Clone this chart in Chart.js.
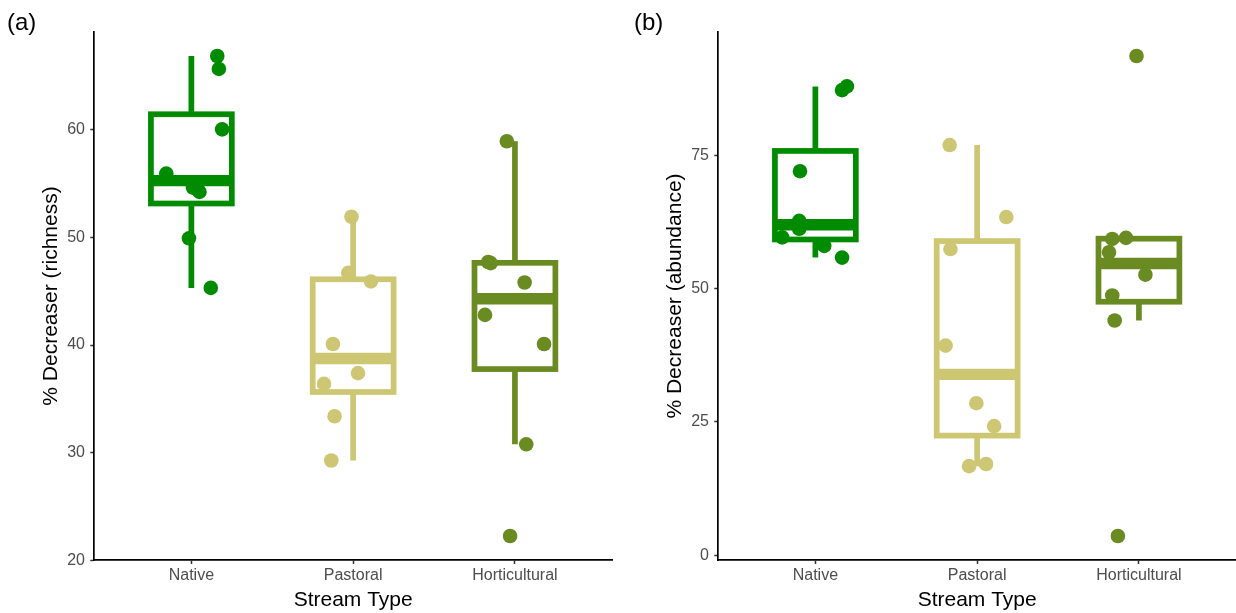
<!DOCTYPE html>
<html>
<head>
<meta charset="utf-8">
<script src="https://cdn.jsdelivr.net/npm/chart.js@4.4.0/dist/chart.umd.min.js"></script>
<style>
  html, body { margin: 0; padding: 0; background: #fff; }
  .panel { position: absolute; top: 0; width: 618px; height: 613px; }
  #panelA { left: 0; }
  #panelB { left: 618px; }
</style>
</head>
<body>
<div class="panel" id="panelA"><canvas id="chartA" width="618" height="613"></canvas></div>
<div class="panel" id="panelB"><canvas id="chartB" width="618" height="613"></canvas></div>
<script>
const streamTypes = ['Native', 'Pastoral', 'Horticultural'];
const streamColors = ['#008B00', '#CDC673', '#698B22'];

// % decreaser taxa (richness), one value per site
const richnessNative = [66.8, 65.6, 60.0, 55.9, 54.6, 54.2, 49.9, 45.3];
const richnessPastoral = [51.9, 46.7, 45.9, 40.1, 37.4, 36.4, 33.4, 29.3];
const richnessHorticultural = [58.9, 47.7, 47.6, 45.8, 42.8, 40.1, 30.8, 22.3];
// horizontal jitter of each site point, in category units
const richnessJitter = [
    [0.16, 0.17, 0.19, -0.155, 0.01, 0.05, -0.015, 0.12],
    [-0.01, -0.03, 0.11, -0.125, 0.03, -0.18, -0.115, -0.135],
    [-0.05, -0.165, -0.15, 0.06, -0.185, 0.18, 0.07, -0.03]
];
const richnessTicks = [20, 30, 40, 50, 60];

// % decreaser taxa (abundance), one value per site
const abundanceNative = [87.2, 87.9, 72.0, 62.7, 61.2, 59.6, 58.0, 55.8];
const abundancePastoral = [76.9, 63.4, 57.4, 39.3, 28.5, 24.2, 16.7, 17.1];
const abundanceHorticultural = [93.6, 59.3, 59.5, 56.8, 52.6, 48.7, 44.0, 3.6];
const abundanceJitter = [
    [0.165, 0.195, -0.095, -0.1, -0.1, -0.205, 0.055, 0.165],
    [-0.17, 0.18, -0.165, -0.195, -0.005, 0.105, -0.05, 0.055],
    [-0.015, -0.165, -0.08, -0.185, 0.04, -0.165, -0.15, -0.13]
];
const abundanceTicks = [0, 25, 50, 75];

const FONT = "'Liberation Sans', Arial, sans-serif";
const BOX_WIDTH = 0.5;

// type 7 quantile, same as R's default
function quantile(sorted, p) {
    const h = (sorted.length - 1) * p;
    const lo = Math.floor(h);
    const next = lo + 1 < sorted.length ? sorted[lo + 1] : sorted[lo];
    return sorted[lo] + (h - lo) * (next - sorted[lo]);
}

function boxStats(values) {
    const s = [...values].sort((a, b) => a - b);
    const q1 = quantile(s, 0.25);
    const med = quantile(s, 0.5);
    const q3 = quantile(s, 0.75);
    const iqr = q3 - q1;
    const inside = s.filter(v => v >= q1 - 1.5 * iqr && v <= q3 + 1.5 * iqr);
    return { q1, med, q3, lo: inside[0], hi: inside[inside.length - 1] };
}

const boxPlugin = {
    id: 'boxes',
    beforeDatasetsDraw(chart, args, opts) {
        const { ctx } = chart;
        const x = chart.scales.x, y = chart.scales.y;
        opts.groups.forEach((vals, i) => {
            const st = boxStats(vals);
            const cx = x.getPixelForValue(i + 1);
            const half = x.getPixelForValue(i + 1 + BOX_WIDTH / 2) - cx;
            const top = y.getPixelForValue(st.q3);
            const bot = y.getPixelForValue(st.q1);
            ctx.save();
            ctx.strokeStyle = streamColors[i];
            ctx.lineCap = 'butt';
            ctx.lineJoin = 'miter';
            ctx.lineWidth = 5.7;
            // whiskers
            ctx.beginPath();
            ctx.moveTo(cx, y.getPixelForValue(st.hi));
            ctx.lineTo(cx, top);
            ctx.moveTo(cx, bot);
            ctx.lineTo(cx, y.getPixelForValue(st.lo));
            ctx.stroke();
            // box
            ctx.fillStyle = '#fff';
            ctx.fillRect(cx - half, top, 2 * half, bot - top);
            ctx.strokeRect(cx - half, top, 2 * half, bot - top);
            // median
            const ym = y.getPixelForValue(st.med);
            ctx.lineWidth = 11.4;
            ctx.beginPath();
            ctx.moveTo(cx - half, ym);
            ctx.lineTo(cx + half, ym);
            ctx.stroke();
            ctx.restore();
        });
    },
    afterDraw(chart, args, opts) {
        const { ctx } = chart;
        ctx.save();
        ctx.fillStyle = '#000';
        ctx.font = `24px ${FONT}`;
        ctx.textBaseline = 'alphabetic';
        ctx.fillText(opts.tag, opts.tagX, 30);
        ctx.restore();
    }
};

function paddedRange(groups) {
    const all = groups.flat();
    const min = Math.min(...all), max = Math.max(...all);
    const pad = (max - min) * 0.05;
    return [min - pad, max + pad];
}

function makePanel(canvasId, groups, jitter, yTicks, yTitle, tag, tagX, yWidth, titleOffset, rightPad) {
    const [yMin, yMax] = paddedRange(groups);
    const datasets = groups.map((vals, i) => ({
        data: vals.map((v, k) => ({ x: i + 1 + jitter[i][k], y: v })),
        backgroundColor: streamColors[i],
        borderWidth: 0,
        pointRadius: 7.3,
        pointHoverRadius: 7.3
    }));
    const tickFont = { family: FONT, size: 16 };
    const titleFont = { family: FONT, size: 21 };
    return new Chart(document.getElementById(canvasId), {
        type: 'scatter',
        data: { datasets },
        plugins: [boxPlugin],
        options: {
            responsive: false,
            devicePixelRatio: 1,
            animation: false,
            events: [],
            layout: { autoPadding: false, padding: { left: 0, top: 32, right: rightPad, bottom: 0 } },
            plugins: {
                legend: { display: false },
                tooltip: { enabled: false },
                boxes: { groups, tag, tagX }
            },
            scales: {
                x: {
                    type: 'linear',
                    min: 0.4,
                    max: 3.6,
                    afterBuildTicks: s => { s.ticks = [1, 2, 3].map(v => ({ value: v })); },
                    afterFit: s => { s.height = 53; },
                    ticks: {
                        callback: v => streamTypes[v - 1],
                        color: '#4D4D4D',
                        font: tickFont,
                        padding: 2.4,
                        maxRotation: 0,
                        autoSkip: false
                    },
                    grid: { drawOnChartArea: false, tickLength: 4, tickColor: '#333', tickWidth: 1.5 },
                    border: { color: '#000', width: 1.7 },
                    title: { display: true, text: 'Stream Type', color: '#000', font: titleFont, padding: { top: 0, bottom: 0.4 } }
                },
                y: {
                    type: 'linear',
                    min: yMin,
                    max: yMax,
                    afterBuildTicks: s => { s.ticks = yTicks.map(v => ({ value: v })); },
                    afterFit: s => { s.width = yWidth; },
                    ticks: { color: '#4D4D4D', font: tickFont, padding: 5.3 },
                    grid: { drawOnChartArea: false, tickLength: 4, tickColor: '#333', tickWidth: 1.5 },
                    border: { color: '#000', width: 1.7 },
                    title: { display: true, text: yTitle, color: '#000', font: titleFont, padding: { top: titleOffset, bottom: 0 } }
                }
            }
        }
    });
}

makePanel('chartA',
    [richnessNative, richnessPastoral, richnessHorticultural],
    richnessJitter, richnessTicks, '% Decreaser (richness)', '(a)', 7, 94.3, 38.4, 6);

makePanel('chartB',
    [abundanceNative, abundancePastoral, abundanceHorticultural],
    abundanceJitter, abundanceTicks, '% Decreaser (abundance)', '(b)', 16, 100.3, 44.4, 0);
</script>
</body>
</html>
